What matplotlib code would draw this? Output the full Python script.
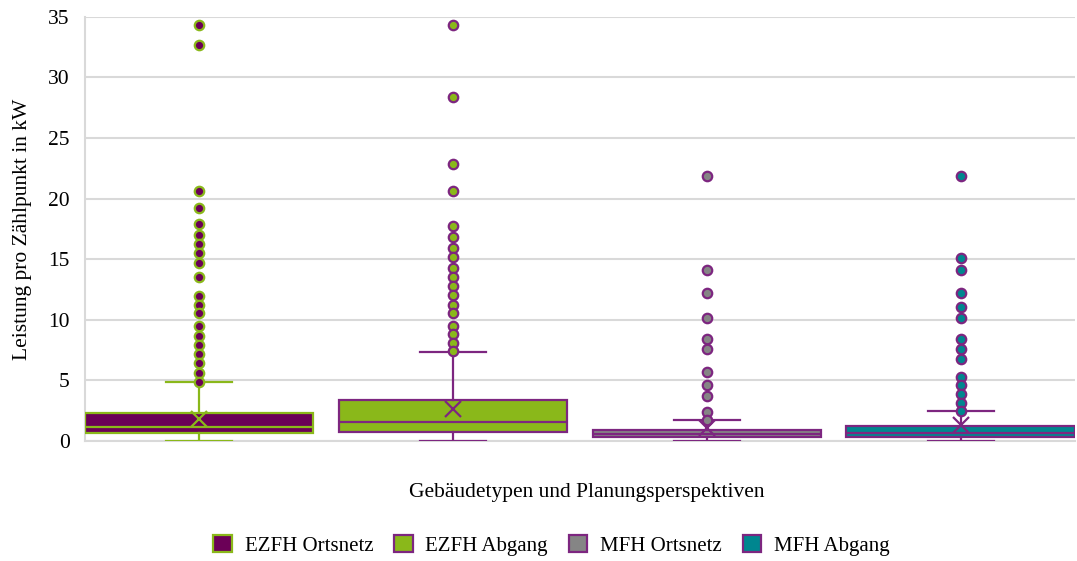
import matplotlib.pyplot as plt
from matplotlib.patches import Patch

plt.rcParams['font.family'] = ['Liberation Serif', 'DejaVu Serif']

labels = ['EZFH Ortsnetz', 'EZFH Abgang', 'MFH Ortsnetz', 'MFH Abgang']
q1 = [0.63, 0.77, 0.30, 0.30]
med = [1.13, 1.60, 0.55, 0.63]
q3 = [2.34, 3.36, 0.91, 1.21]
whislo = [0.0, 0.0, 0.0, 0.0]
whishi = [4.87, 7.35, 1.73, 2.48]
means = [1.84, 2.61, 1.10, 1.32]
fliers = [
    [34.3, 32.65, 20.64, 19.24, 17.92, 16.98, 16.24, 15.47, 14.72, 13.57,
     11.97, 11.26, 10.54, 9.52, 8.70, 7.93, 7.18, 6.44, 5.64, 4.87],
    [34.3, 28.35, 22.82, 20.64, 17.76, 16.85, 15.91, 15.14, 14.31, 13.54,
     12.80, 12.06, 11.26, 10.54, 9.52, 8.84, 8.12, 7.41],
    [21.88, 14.12, 12.19, 10.16, 8.45, 7.57, 5.67, 4.60, 3.74, 2.42, 1.75],
    [21.88, 15.08, 14.12, 12.19, 11.09, 10.16, 8.45, 7.57, 6.77, 5.31,
     4.60, 3.88, 3.16, 2.45],
]

purple = '#6B0057'
purple_edge = '#7D2680'
green = '#8AB81A'
grey = '#858585'
teal = '#00868F'
fills = [purple, green, grey, teal]
edges = [green, purple_edge, purple_edge, purple_edge]

fig = plt.figure(figsize=(10.77, 5.61), dpi=100)
ax = fig.add_axes([0.079, 0.214, 0.919, 0.756])

for i in range(4):
    st = dict(q1=q1[i], med=med[i], q3=q3[i], whislo=whislo[i], whishi=whishi[i],
              mean=means[i], fliers=fliers[i])
    ec = edges[i]
    ax.bxp([st], positions=[i], widths=0.9, patch_artist=True,
           showmeans=True,
           boxprops=dict(facecolor=fills[i], edgecolor=ec, linewidth=1.6),
           medianprops=dict(color=ec, linewidth=1.6),
           whiskerprops=dict(color=ec, linewidth=1.6),
           capprops=dict(color=ec, linewidth=1.6),
           capwidths=0.26,
           meanprops=dict(marker='x', markersize=11, markeredgecolor=ec,
                          markeredgewidth=1.6, markerfacecolor='none'),
           flierprops=dict(marker='o', markersize=6.8, markerfacecolor=fills[i],
                           markeredgecolor=ec, markeredgewidth=1.6, linestyle='none'),
           zorder=3)

ax.set_xlim(-0.45, 3.45)
ax.set_ylim(0, 35)
ax.set_yticks(range(0, 36, 5))
ax.set_xticks([])
ax.yaxis.grid(True, color='#D9D9D9', linewidth=1.5, zorder=0)
ax.set_axisbelow(True)
for s in ['top', 'right']:
    ax.spines[s].set_visible(False)
ax.spines['left'].set_color('#D9D9D9')
ax.spines['left'].set_linewidth(1.5)
ax.spines['bottom'].set_color('#D9D9D9')
ax.spines['bottom'].set_linewidth(1.5)
ax.tick_params(axis='y', length=0, labelsize=15.5, pad=11)
ax.set_ylabel('Leistung pro Zählpunkt in kW', fontsize=15.5, labelpad=12)
ax.set_xlabel('Gebäudetypen und Planungsperspektiven', fontsize=15.5, labelpad=30, x=0.507)

handles = [Patch(facecolor=fills[i], edgecolor=edges[i], linewidth=1.6, label=labels[i])
           for i in range(4)]
fig.legend(handles=handles, loc='center', bbox_to_anchor=(0.512, 0.028), ncol=4,
           frameon=False, fontsize=15, handlelength=0.9, handleheight=0.9,
           handletextpad=0.6, columnspacing=1.0)

fig.savefig('out.png', dpi=100)
